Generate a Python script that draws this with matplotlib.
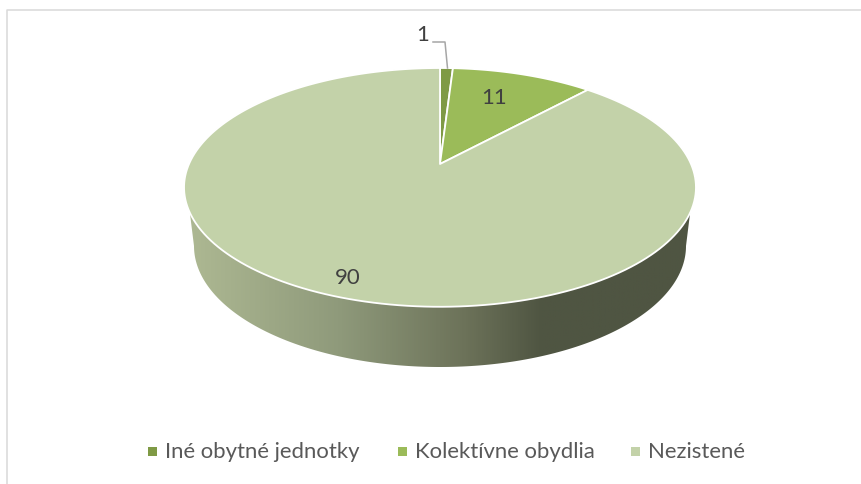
import numpy as np
import matplotlib
matplotlib.use('Agg')
import matplotlib.pyplot as plt
from matplotlib.colors import LinearSegmentedColormap
from matplotlib.patches import Polygon

labels = ['Iné obytné jednotky', 'Kolektívne obydlia', 'Nezistené']
values = [1, 11, 90]
colors = ['#7f9a45', '#9bbb59', '#c3d2a9']

plt.rcParams['font.family'] = ['Lato', 'DejaVu Sans']

# perspective of the tilted pie, in pixels
CX, CY = 440, 164
RX, RY, TILT = 251, 114.8, 0.196


def rim(theta):
    u, v = np.sin(theta), np.cos(theta)
    w = 1 + TILT * v
    return CX + RX * u / w, CY - RY * v / w


def wedge(t0, t1):
    t = np.linspace(t0, t1, 200)
    x, y = rim(t)
    return np.column_stack([np.r_[CX, x], np.r_[CY, y]])


fig = plt.figure(figsize=(8.62, 4.84), dpi=100)
ax = fig.add_axes([0, 0, 1, 1])

# side wall with the horizontal shading
t = np.linspace(np.pi / 2 + 0.1, 3 * np.pi / 2 - 0.1, 300)
top_x, top_y = rim(t)
low = np.linspace(np.pi, 0, 300)
low_x = 440 + 246 * np.cos(low)
low_y = 246 + 121 * np.sin(low)
wall = Polygon(np.column_stack([np.r_[top_x, low_x], np.r_[top_y, low_y]]),
               closed=True, fc='none', ec='none', transform=ax.transData)
ax.add_patch(wall)
shade = LinearSegmentedColormap.from_list('shade', [
    (0.0, '#aeb993'), (0.3, '#8f9a7b'), (0.55, '#6c7259'),
    (0.70, '#4f5542'), (1.0, '#4f5542')])
img = ax.imshow(np.linspace(0, 1, 512)[None, :], cmap=shade, aspect='auto',
                extent=[185, 695, 367, 180], zorder=1)
img.set_clip_path(wall)

# top face, slices from the values
edges = np.r_[0, np.cumsum(values)] / sum(values) * 2 * np.pi
for i, c in enumerate(colors):
    ax.add_patch(Polygon(wedge(edges[i], edges[i + 1]), closed=True, fc=c,
                         ec='white', lw=1.3, joinstyle='round', zorder=2))

# leader line of the smallest slice
ax.plot([433, 445, 447.5], [42, 42, 68], color='#a6a6a6', lw=1.1, zorder=3)

label_pos = [(423, 35), (494, 98), (348, 278)]
for v, (x, y) in zip(values, label_pos):
    ax.text(x, y, str(v), ha='center', va='center', fontsize=16, color='#404040', zorder=4)

# legend
legend_x = [148, 398, 631]
for name, c, x in zip(labels, colors, legend_x):
    ax.add_patch(plt.Rectangle((x, 447), 9, 9, fc=c, ec='none'))
    ax.text(x + 17, 452.5, name, ha='left', va='center', fontsize=15.9, color='#595959')

# chart frame, cropped on the other sides
ax.plot([7.5, 7.5, 862], [484, 9.5, 9.5], color='#d9d9d9', lw=1.1, zorder=0)

ax.set_xlim(0, 862)
ax.set_ylim(484, 0)
ax.axis('off')
fig.savefig('out.png', dpi=100, facecolor='white')
